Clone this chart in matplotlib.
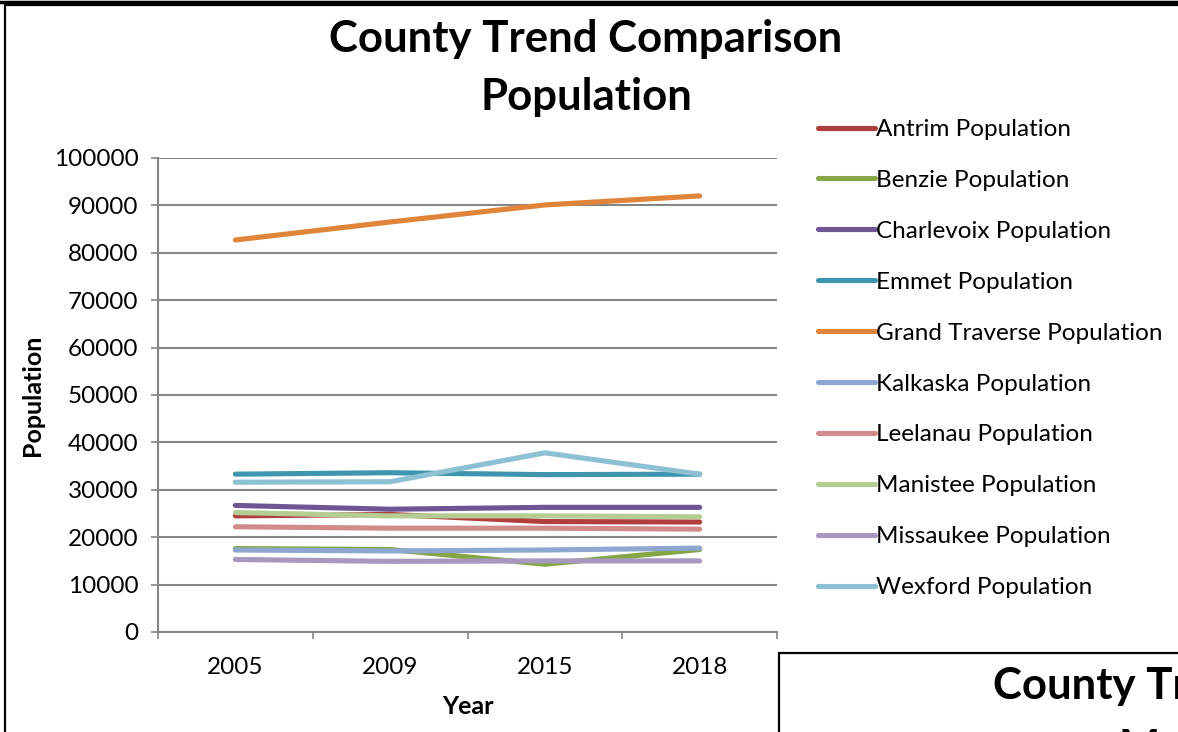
import numpy as np
import matplotlib.pyplot as plt
from matplotlib.patches import Rectangle
from matplotlib.lines import Line2D

plt.rcParams['font.family'] = ['Lato', 'DejaVu Sans']

years = ['2005', '2009', '2015', '2018']
antrim = [24500, 24800, 23300, 23200]
benzie = [17600, 17400, 14300, 17400]
charlevoix = [26700, 25900, 26300, 26300]
emmet = [33300, 33600, 33200, 33300]
grand_traverse = [82700, 86500, 90100, 92000]
kalkaska = [17300, 17100, 17300, 17700]
leelanau = [22200, 21900, 21900, 21700]
manistee = [25200, 24500, 24500, 24300]
missaukee = [15300, 14900, 15000, 15000]
wexford = [31600, 31700, 37800, 33300]

series = [
    ('Antrim Population', antrim, '#B0403D'),
    ('Benzie Population', benzie, '#86A646'),
    ('Charlevoix Population', charlevoix, '#6E5593'),
    ('Emmet Population', emmet, '#3E95AD'),
    ('Grand Traverse Population', grand_traverse, '#E0843A'),
    ('Kalkaska Population', kalkaska, '#8DA7D0'),
    ('Leelanau Population', leelanau, '#D28B8B'),
    ('Manistee Population', manistee, '#B5CC92'),
    ('Missaukee Population', missaukee, '#A698BF'),
    ('Wexford Population', wexford, '#8DC0D3'),
]

W, H = 1178, 732
fig = plt.figure(figsize=(W / 100, H / 100), dpi=100)

# outer chart frame
fig.patches.append(Rectangle((5 / W, -0.1), 1.2, (H - 5) / H + 0.1, transform=fig.transFigure,
                             fill=False, edgecolor='black', linewidth=1.6, clip_on=False))
fig.lines.append(Line2D([0, 1], [1 - 1.5 / H, 1 - 1.5 / H], transform=fig.transFigure,
                        color='black', linewidth=2.5))

ax = fig.add_axes([158 / W, (H - 632) / H, 619 / W, 474 / H])
x = np.arange(len(years))
for name, vals, col in series:
    ax.plot(x, vals, color=col, linewidth=3.7, solid_capstyle='round', label=name)

ax.set_xlim(-0.5, len(years) - 0.5)
ax.set_ylim(0, 100000)
ax.set_yticks(np.arange(0, 100001, 10000))
ax.set_xticks(x)
ax.set_xticklabels(years)
ax.set_xticks(np.arange(-0.5, len(years), 1), minor=True)
ax.tick_params(axis='x', which='major', length=0, pad=18, labelsize=17.5)
ax.tick_params(axis='x', which='minor', length=5, width=1.2, color='#868686', direction='out')
ax.tick_params(axis='y', length=5, width=1.2, color='#868686', pad=9, labelsize=17.5)
ax.grid(axis='y', color='#868686', linewidth=1.5)
ax.set_axisbelow(True)
for s in ['top', 'right']:
    ax.spines[s].set_visible(False)
for s in ['left', 'bottom']:
    ax.spines[s].set_color('#868686')
    ax.spines[s].set_linewidth(1.5)

fig.text(586 / W, 1 - 68 / H, 'County Trend Comparison\nPopulation', ha='center', va='center',
         fontsize=31.5, fontweight='bold', linespacing=1.56)
fig.text(33 / W, 1 - 395 / H, 'Population', rotation=90, ha='center', va='center',
         fontsize=18, fontweight='bold')
fig.text(468 / W, 1 - 707 / H, 'Year', ha='center', va='center', fontsize=18, fontweight='bold')

fig.legend(loc='upper left', bbox_to_anchor=(818 / W, 1 - 119 / H), frameon=False,
           fontsize=17.5, handlelength=2.35, handletextpad=0.03, labelspacing=1.23,
           borderaxespad=0, borderpad=0)

# neighbouring chart box, cut off at lower right
fig.patches.append(Rectangle((779 / W, -0.1), 1.0, (H - 653) / H + 0.1, transform=fig.transFigure,
                             facecolor='white', edgecolor='black', linewidth=1.6, clip_on=False))
fig.text(993 / W, 1 - 686 / H, 'County Trend Comparison', ha='left', va='center',
         fontsize=31.5, fontweight='bold')
fig.text(1118 / W, 1 - 748 / H, 'Manistee', ha='left', va='center', fontsize=31.5, fontweight='bold')

fig.savefig('out.png', dpi=100)
